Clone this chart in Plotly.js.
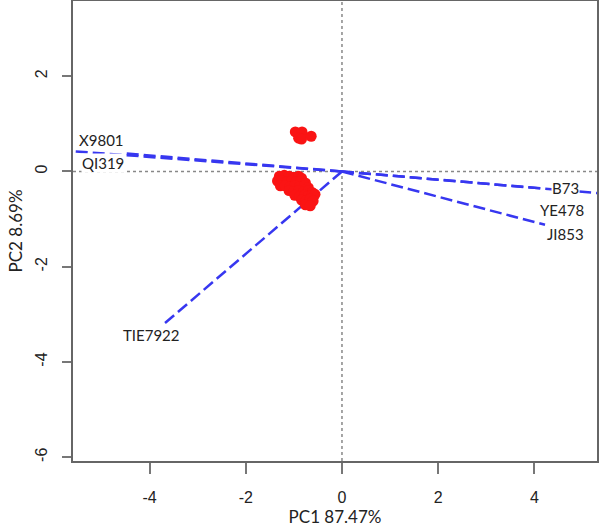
<!DOCTYPE html>
<html>
<head>
<meta charset="utf-8">
<script src="https://cdn.plot.ly/plotly-3.0.1.min.js"></script>
<style>
  body { margin: 0; background: #fff; }
  #chart { width: 600px; height: 530px; }
</style>
</head>
<body>
<div id="chart"></div>
<script>
// PCA scores (samples)
const scoreX = [
    -0.97, -0.83, -0.90, -0.84, -0.64,
    -1.30, -1.20, -1.10, -1.00, -0.90, -0.84,
    -1.34, -1.25, -1.15, -1.05, -0.95, -0.85, -0.76,
    -1.28, -1.18, -1.08, -0.98, -0.88, -0.78, -0.70,
    -1.10, -1.00, -0.90, -0.80, -0.70, -0.62,
    -0.98, -0.88, -0.78, -0.70, -0.62, -0.56,
    -0.84, -0.75, -0.66, -0.60,
    -0.76, -0.66
];
const scoreY = [
    0.83, 0.83, 0.70, 0.68, 0.74,
    -0.10, -0.08, -0.10, -0.12, -0.10, -0.14,
    -0.20, -0.20, -0.22, -0.20, -0.22, -0.20, -0.24,
    -0.30, -0.30, -0.32, -0.30, -0.32, -0.30, -0.34,
    -0.40, -0.42, -0.40, -0.42, -0.40, -0.44,
    -0.50, -0.52, -0.50, -0.52, -0.50, -0.48,
    -0.60, -0.62, -0.58, -0.62,
    -0.70, -0.72
];

// Variable loadings (arrow tips) and where their names sit
const varNames = ['X9801', 'QI319', 'B73', 'YE478', 'JI853', 'TIE7922'];
const loadX = [-5.90, -4.51, 4.18, 5.60, 4.22, -3.72];
const loadY = [0.45, 0.38, -0.36, -0.48, -1.12, -3.22];
const labelX = [-4.99, -4.97, 4.64, 4.57, 4.64, -3.95];
const labelY = [0.67, 0.17, -0.34, -0.80, -1.31, -3.43];

// Tick labels (plain hyphen, as in the original)
const xTicks = [-4, -2, 0, 2, 4];
const xTickText = ['-4', '-2', '0', '2', '4'];
const yTicks = [-6, -4, -2, 0, 2];
const yTickText = ['-6', '-4', '-2', '0', '2'];

const fontTxt = 'Lato, "Open Sans", sans-serif';
const fontTick = '"Liberation Sans", Arial, sans-serif';

const traces = [];

varNames.forEach((name, i) => {
    traces.push({
        x: [0, loadX[i]],
        y: [0, loadY[i]],
        type: 'scatter',
        mode: 'lines',
        name: name,
        line: { color: 'rgb(55,55,240)', width: 2.5, dash: '12px,5px' },
        hoverinfo: 'skip'
    });
});

traces.push({
    x: scoreX,
    y: scoreY,
    type: 'scatter',
    mode: 'markers',
    name: 'samples',
    marker: { color: 'rgb(250,20,20)', size: 11 }
});

const annotations = varNames.map((name, i) => ({
    x: labelX[i],
    y: labelY[i],
    text: name,
    showarrow: false,
    bgcolor: '#fff',
    borderpad: 0,
    font: { family: fontTxt, size: 15, color: '#222' }
}));

const layout = {
    width: 600,
    height: 530,
    margin: { l: 73, r: 3, t: 1, b: 69 },
    paper_bgcolor: '#fff',
    plot_bgcolor: '#fff',
    showlegend: false,
    xaxis: {
        range: [-5.59, 5.3],
        tickvals: xTicks,
        ticktext: xTickText,
        ticks: 'outside',
        ticklen: 11,
        tickcolor: '#777',
        tickwidth: 2,
        ticklabelstandoff: 10,
        showgrid: false,
        zeroline: false,
        showline: true,
        mirror: true,
        linecolor: '#666',
        linewidth: 2,
        tickfont: { family: fontTick, size: 16, color: '#222' },
        title: { text: 'PC1 87.47%', font: { family: fontTxt, size: 17, color: '#222' }, standoff: 4 }
    },
    yaxis: {
        range: [-6.08, 3.58],
        tickvals: yTicks,
        ticktext: yTickText,
        tickangle: -90,
        ticks: 'outside',
        ticklen: 9,
        tickcolor: '#777',
        tickwidth: 2,
        ticklabelstandoff: 9,
        showgrid: false,
        zeroline: false,
        showline: true,
        mirror: true,
        linecolor: '#666',
        linewidth: 2,
        tickfont: { family: fontTick, size: 16, color: '#222' },
        title: { text: 'PC2 8.69%', font: { family: fontTxt, size: 17, color: '#222' }, standoff: 6 }
    },
    shapes: [
        { type: 'line', xref: 'x', yref: 'paper', x0: 0, x1: 0, y0: 0, y1: 1,
          line: { color: '#888', width: 1.5, dash: 'dot' }, layer: 'below' },
        { type: 'line', xref: 'paper', yref: 'y', x0: 0, x1: 1, y0: 0, y1: 0,
          line: { color: '#888', width: 1.5, dash: 'dot' }, layer: 'below' }
    ],
    annotations: annotations
};

Plotly.newPlot('chart', traces, layout, { displayModeBar: false, staticPlot: true });
</script>
</body>
</html>
